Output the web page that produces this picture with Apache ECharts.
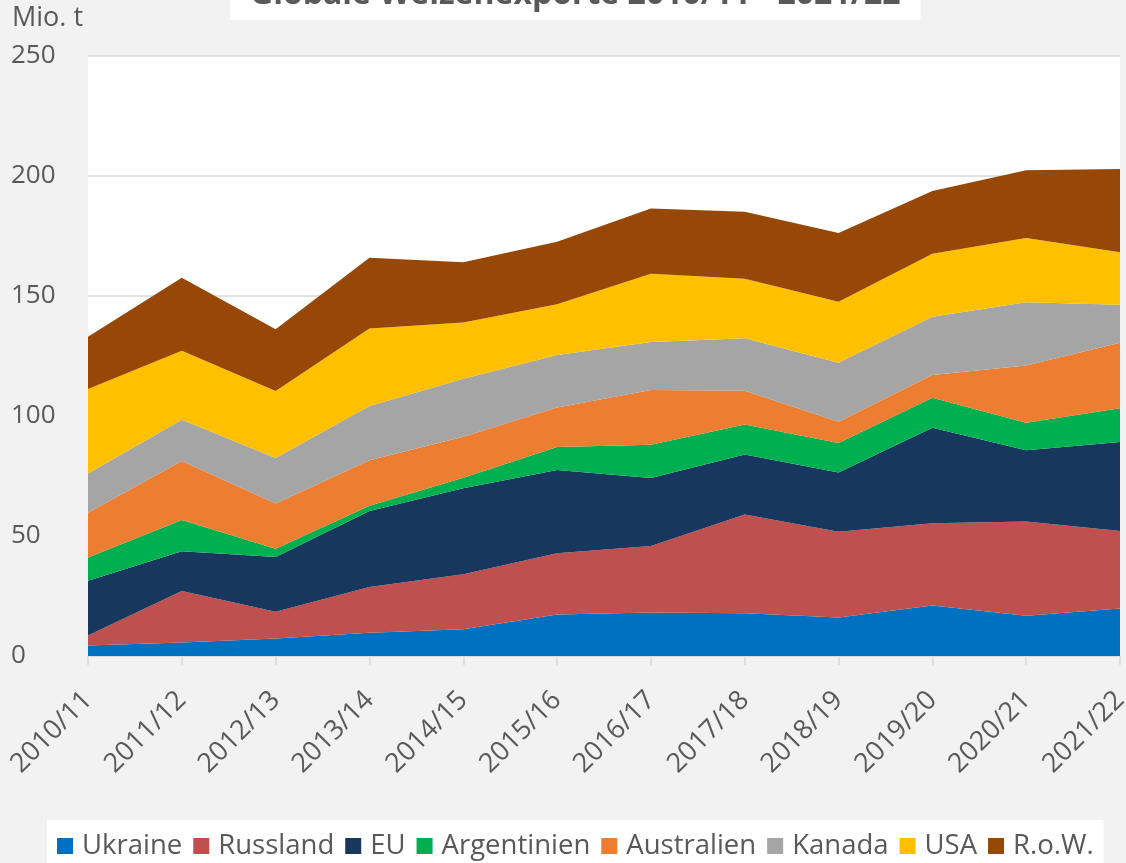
<!DOCTYPE html>
<html>
<head>
<meta charset="utf-8">
<title>Globale Weizenexporte</title>
<script src="https://cdn.jsdelivr.net/npm/echarts@6/dist/echarts.min.js"></script>
<style>
  html, body { margin: 0; padding: 0; background: #f2f2f2; }
  #chart { width: 1126px; height: 863px; }
</style>
</head>
<body>
<div id="chart"></div>
<script>
// Wirtschaftsjahre
const years = ['2010/11', '2011/12', '2012/13', '2013/14', '2014/15', '2015/16',
  '2016/17', '2017/18', '2018/19', '2019/20', '2020/21', '2021/22']

// Exporte in Mio. t
const ukraine = [4.4, 5.6, 7.3, 9.7, 11.1, 17.3, 18.1, 17.8, 16.0, 21.0, 16.8, 19.8]
const russland = [4.1, 21.5, 11.1, 19.0, 23.0, 25.5, 27.7, 41.2, 35.8, 34.3, 39.2, 32.3]
const eu = [22.9, 16.5, 22.8, 31.7, 35.8, 34.7, 28.4, 25.0, 24.7, 39.8, 29.7, 37.1]
const argentinien = [9.6, 13.1, 3.5, 2.2, 4.4, 9.6, 13.8, 12.5, 12.3, 12.5, 11.5, 14.0]
const australien = [18.7, 24.6, 18.8, 19.0, 17.1, 16.4, 22.8, 14.0, 8.8, 9.5, 23.8, 27.3]
const kanada = [16.3, 17.1, 19.0, 22.6, 24.1, 21.9, 20.0, 21.9, 24.6, 24.3, 26.4, 15.9]
const usa = [35.2, 28.8, 27.9, 32.3, 23.5, 21.2, 28.5, 24.8, 25.4, 26.2, 26.8, 21.8]
const row = [21.8, 30.4, 25.7, 29.4, 25.1, 26.0, 27.2, 27.9, 28.7, 26.1, 28.2, 34.7]

const seriesList = [
  { name: 'Ukraine', data: ukraine, color: '#0070c0' },
  { name: 'Russland', data: russland, color: '#c0504d' },
  { name: 'EU', data: eu, color: '#17375e' },
  { name: 'Argentinien', data: argentinien, color: '#00b050' },
  { name: 'Australien', data: australien, color: '#ed7d31' },
  { name: 'Kanada', data: kanada, color: '#a5a5a5' },
  { name: 'USA', data: usa, color: '#ffc000' },
  { name: 'R.o.W.', data: row, color: '#974706' }
]

const font = '"Open Sans", sans-serif'
const textGrey = '#595959'
const lineGrey = '#d9d9d9'

const chart = echarts.init(document.getElementById('chart'), null, { renderer: 'canvas' })

const option = {
  backgroundColor: '#f2f2f2',
  animation: false,
  title: {
    text: 'Globale Weizenexporte 2010/11 - 2021/22',
    left: 230,
    top: -24,
    backgroundColor: '#fff',
    padding: [0, 20, 6, 20],
    textStyle: {
      fontFamily: font,
      fontSize: 32,
      fontWeight: 'bold',
      color: textGrey,
      lineHeight: 38
    }
  },
  legend: {
    data: seriesList.map(s => s.name),
    left: 47,
    top: 820,
    backgroundColor: '#fff',
    padding: [12, 10, 20, 10],
    icon: 'rect',
    itemWidth: 16,
    itemHeight: 16,
    itemGap: 11,
    textStyle: {
      fontFamily: font,
      fontSize: 27.5,
      color: textGrey,
      padding: [0, 0, 0, 4]
    }
  },
  grid: {
    left: 88,
    right: 6,
    top: 56,
    bottom: 207,
    outerBoundsMode: 'none',
    containLabel: false,
    show: true,
    backgroundColor: '#fff',
    borderWidth: 0
  },
  xAxis: {
    type: 'category',
    data: years,
    boundaryGap: false,
    axisLine: { lineStyle: { color: lineGrey, width: 1.5 } },
    axisTick: { show: true, length: 9, lineStyle: { color: lineGrey, width: 1.5 } },
    axisLabel: {
      rotate: 45,
      margin: 40,
      fontFamily: font,
      fontSize: 27,
      color: textGrey
    }
  },
  yAxis: {
    type: 'value',
    min: 0,
    max: 250,
    interval: 50,
    name: 'Mio. t',
    nameLocation: 'end',
    nameGap: 24,
    nameTextStyle: {
      fontFamily: font,
      fontSize: 27,
      color: textGrey,
      align: 'left',
      padding: [0, 0, 0, -76]
    },
    axisLine: { show: false },
    axisTick: { show: false },
    splitLine: { lineStyle: { color: lineGrey, width: 1.5 } },
    axisLabel: {
      margin: 77,
      align: 'left',
      fontFamily: font,
      fontSize: 26,
      color: textGrey
    }
  },
  series: seriesList.map(s => ({
    name: s.name,
    type: 'line',
    stack: 'total',
    data: s.data,
    showSymbol: false,
    symbol: 'none',
    itemStyle: { color: s.color },
    lineStyle: { width: 0 },
    areaStyle: { color: s.color, opacity: 1 }
  }))
}

chart.setOption(option)
</script>
</body>
</html>
